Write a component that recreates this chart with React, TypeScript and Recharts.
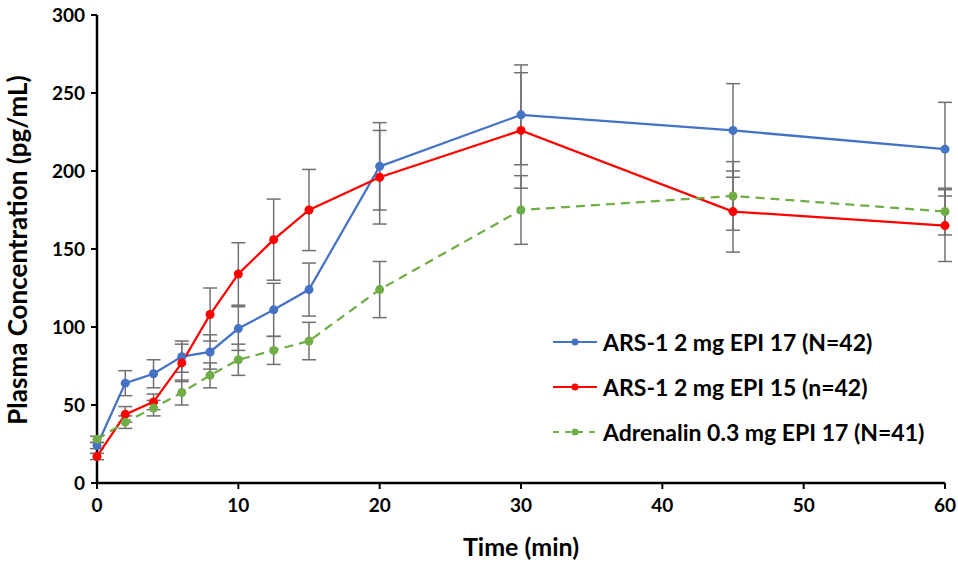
import React from 'react';
import { LineChart, Line, XAxis, YAxis, ErrorBar, Label } from 'recharts';

// Sampling times (min)
const TIMES = [0, 2, 4, 6, 8, 10, 12.5, 15, 20, 30, 45, 60];

// Mean plasma concentration (pg/mL) and error per series
const ARS17 = [24, 64, 70, 81, 84, 99, 111, 124, 203, 236, 226, 214];
const ARS17_ERR = [2, 8, 9, 10, 11, 14, 17, 17, 28, 32, 30, 30];
const ARS15 = [17, 44, 52, 77, 108, 134, 156, 175, 196, 226, 174, 165];
const ARS15_ERR = [2, 5, 5, 12, 17, 20, 26, 26, 30, 37, 26, 23];
const ADR = [28, 39, 48, 58, 69, 79, 85, 91, 124, 175, 184, 174];
const ADR_ERR = [2, 4, 5, 8, 8, 10, 9, 12, 18, 22, 22, 15];

const X_TICKS = [0, 10, 20, 30, 40, 50, 60];
const Y_TICKS = [0, 50, 100, 150, 200, 250, 300];

const SERIES_NAMES = [
  'ARS-1 2 mg EPI 17 (N=42)',
  'ARS-1 2 mg EPI 15 (n=42)',
  'Adrenalin 0.3 mg EPI 17 (N=41)',
];

const COLORS = {
  blue: '#4472C4',
  red: '#FF0000',
  green: '#70AD47',
  err: '#707070',
};

const FONT = 'Lato, "Open Sans", sans-serif';

const data = TIMES.map((t, i) => ({
  t,
  ars17: ARS17[i],
  ars17Err: ARS17_ERR[i],
  ars15: ARS15[i],
  ars15Err: ARS15_ERR[i],
  adr: ADR[i],
  adrErr: ADR_ERR[i],
}));

const LEGEND_ITEMS = [
  { name: SERIES_NAMES[0], color: COLORS.blue, dash: undefined },
  { name: SERIES_NAMES[1], color: COLORS.red, dash: undefined },
  { name: SERIES_NAMES[2], color: COLORS.green, dash: '6 6' },
];

// legend sits inside the plot area, drawn over the chart
function ChartLegend() {
  return (
    <div
      style={{
        position: 'absolute',
        left: 552,
        top: 319,
        fontFamily: FONT,
        fontWeight: 700,
        fontSize: 23,
        color: '#000',
      }}
    >
      {LEGEND_ITEMS.map((item) => (
        <div key={item.name} style={{ display: 'flex', alignItems: 'center', height: 45 }}>
          <svg width={46} height={12} style={{ marginRight: 5 }}>
            <line x1={1} y1={6} x2={45} y2={6} stroke={item.color} strokeWidth={2} strokeDasharray={item.dash} />
            <circle cx={23} cy={6} r={3.5} fill={item.color} />
          </svg>
          <span>{item.name}</span>
        </div>
      ))}
    </div>
  );
}

const tickStyle = { fontFamily: FONT, fontWeight: 700, fontSize: 19, fill: '#000' };
const dotStyle = (color: string) => ({ r: 4.5, fill: color, stroke: color, strokeWidth: 0 });

export default function App() {
  return (
    <div style={{ position: 'absolute', left: 0, top: 0, width: 958, height: 563, background: '#fff' }}>
      <LineChart width={958} height={563} data={data} margin={{ top: 15, right: 13, left: 47, bottom: 50 }}>
        <XAxis
          dataKey="t"
          type="number"
          domain={[0, 60]}
          ticks={X_TICKS}
          tick={tickStyle}
          tickSize={6}
          tickMargin={10}
          height={30}
          axisLine={{ stroke: '#000', strokeWidth: 2.5 }}
          tickLine={{ stroke: '#000', strokeWidth: 2 }}
        >
          <Label
            content={() => (
              <text
                x={521}
                y={556}
                textAnchor="middle"
                style={{ fontFamily: FONT, fontWeight: 700, fontSize: 25, fill: '#000' }}
              >
                Time (min)
              </text>
            )}
          />
        </XAxis>
        <YAxis
          domain={[0, 300]}
          ticks={Y_TICKS}
          tick={tickStyle}
          tickSize={6}
          tickMargin={6}
          width={50}
          axisLine={{ stroke: '#000', strokeWidth: 2.5 }}
          tickLine={{ stroke: '#000', strokeWidth: 2 }}
        >
          <Label
            content={() => (
              <text
                x={0}
                y={0}
                transform="translate(27, 250) rotate(-90)"
                textAnchor="middle"
                style={{ fontFamily: FONT, fontWeight: 700, fontSize: 26, fill: '#000' }}
              >
                Plasma Concentration (pg/mL)
              </text>
            )}
          />
        </YAxis>
        <Line
          dataKey="ars17"
          name={SERIES_NAMES[0]}
          stroke={COLORS.blue}
          strokeWidth={2.25}
          dot={dotStyle(COLORS.blue)}
          activeDot={false}
          isAnimationActive={false}
        >
          <ErrorBar dataKey="ars17Err" direction="y" width={7} stroke={COLORS.err} strokeWidth={1.5} />
        </Line>
        <Line
          dataKey="ars15"
          name={SERIES_NAMES[1]}
          stroke={COLORS.red}
          strokeWidth={2.25}
          dot={dotStyle(COLORS.red)}
          activeDot={false}
          isAnimationActive={false}
        >
          <ErrorBar dataKey="ars15Err" direction="y" width={7} stroke={COLORS.err} strokeWidth={1.5} />
        </Line>
        <Line
          dataKey="adr"
          name={SERIES_NAMES[2]}
          stroke={COLORS.green}
          strokeWidth={2.25}
          strokeDasharray="9 6"
          dot={dotStyle(COLORS.green)}
          activeDot={false}
          isAnimationActive={false}
        >
          <ErrorBar dataKey="adrErr" direction="y" width={7} stroke={COLORS.err} strokeWidth={1.5} />
        </Line>
      </LineChart>
      <ChartLegend />
    </div>
  );
}
